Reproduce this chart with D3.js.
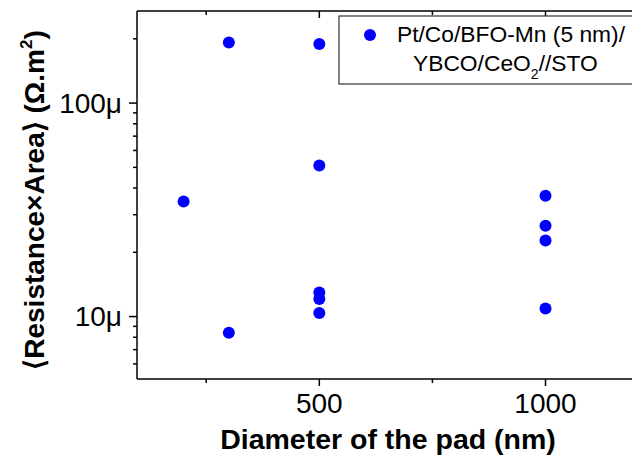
<!DOCTYPE html>
<html>
<head>
<meta charset="utf-8">
<script src="https://cdn.jsdelivr.net/npm/d3@7"></script>
<style>
  body { margin: 0; background: #fff; }
  text { font-family: Arial, "Liberation Sans", sans-serif; fill: #000; }
</style>
</head>
<body>
<div class="chart_Container"></div>
<script>
//pad diameters (nm) and the resistance x area values (ohm.m^2)
const diameters = [200, 300, 300, 500, 500, 500, 500, 500, 1000, 1000, 1000, 1000];
const raValues = [34.6e-6, 192e-6, 8.4e-6, 189e-6, 51e-6, 12.96e-6, 12.1e-6, 10.4e-6, 36.8e-6, 26.6e-6, 22.7e-6, 10.9e-6];

//tick values + labels
const xMajor = [500, 1000];
const xMajorLabels = ['500', '1000'];
const xMinor = [250, 750];
const yMajor = [1e-5, 1e-4];
const yMajorLabels = ['10\u03bc', '100\u03bc'];
const yMinor = [6e-6, 7e-6, 8e-6, 9e-6, 2e-5, 3e-5, 4e-5, 5e-5, 6e-5, 7e-5, 8e-5, 9e-5, 2e-4];

const seriesName1 = 'Pt/Co/BFO-Mn (5 nm)/';
const seriesName2 = ['YBCO/CeO', '2', '//STO'];

const W = 632, H = 456;
const margin = ({top: 11, bottom: 77, left: 137, right: -4});
const width = W - margin.left - margin.right;
const height = H - margin.top - margin.bottom;

const svg = d3.select('.chart_Container')
  .append('svg')
  .attr('width', W)
  .attr('height', H)
  .append('g')
  .attr('transform', `translate(${margin.left},${margin.top})`);

const x = d3.scaleLinear()
  .domain([97, 1200])
  .range([0, width]);

const y = d3.scaleLog()
  .domain([5.1e-6, 2.7e-4])
  .range([height, 0]);

const blue = '#0000ff';

//points
svg.selectAll('.dot')
  .data(diameters.map((d, i) => ({d: d, ra: raValues[i]})))
  .enter()
  .append('circle')
  .attr('class', 'dot')
  .attr('cx', d => x(d.d))
  .attr('cy', d => y(d.ra))
  .attr('r', 6)
  .attr('fill', blue);

//frame lines (right side is off the picture)
const frame = svg.append('g').attr('stroke', '#000').attr('stroke-width', 1.5).attr('fill', 'none');
frame.append('line').attr('x1', 0).attr('x2', width + 10).attr('y1', 0).attr('y2', 0);
frame.append('line').attr('x1', 0).attr('x2', width + 10).attr('y1', height).attr('y2', height);
frame.append('line').attr('x1', 0).attr('x2', 0).attr('y1', 0).attr('y2', height);

//bottom ticks point out, top ones point in
const tickG = svg.append('g').attr('stroke', '#000').attr('stroke-width', 1.5);
function xTicks(vals, len) {
  vals.forEach(v => {
    tickG.append('line').attr('x1', x(v)).attr('x2', x(v)).attr('y1', height).attr('y2', height + len);
    tickG.append('line').attr('x1', x(v)).attr('x2', x(v)).attr('y1', 0).attr('y2', len);
  });
}
xTicks(xMajor, 7);
xTicks(xMinor, 4);

yMajor.forEach(v => {
  tickG.append('line').attr('x1', -8).attr('x2', 0).attr('y1', y(v)).attr('y2', y(v));
});
yMinor.forEach(v => {
  tickG.append('line').attr('x1', -4).attr('x2', 0).attr('y1', y(v)).attr('y2', y(v));
});

//tick labels
svg.selectAll('.xlab')
  .data(xMajor)
  .enter()
  .append('text')
  .attr('class', 'xlab')
  .attr('x', d => x(d))
  .attr('y', height + 34)
  .attr('text-anchor', 'middle')
  .style('font-size', '28px')
  .text((d, i) => xMajorLabels[i]);

svg.selectAll('.ylab')
  .data(yMajor)
  .enter()
  .append('text')
  .attr('class', 'ylab')
  .attr('x', -15)
  .attr('y', d => y(d) + 9.5)
  .attr('text-anchor', 'end')
  .style('font-size', '28px')
  .text((d, i) => yMajorLabels[i]);

//axis titles
svg.append('text')
  .attr('x', 388 - margin.left)
  .attr('y', 449 - margin.top)
  .attr('text-anchor', 'middle')
  .style('font-size', '28.5px')
  .style('font-weight', 'bold')
  .text('Diameter of the pad (nm)');

const yt = svg.append('text')
  .attr('transform', `translate(${44 - margin.left},${200 - margin.top}) rotate(-90)`)
  .attr('text-anchor', 'middle')
  .style('font-size', '28px')
  .style('font-weight', 'bold');
yt.append('tspan').text('\u27e8Resistance\u00d7Area\u27e9 (\u03a9.m');
yt.append('tspan').attr('dy', -12).style('font-size', '17px').text('2');
yt.append('tspan').attr('dy', 12).text(')');

//legend box
const leg = svg.append('g').attr('transform', `translate(${339 - margin.left},${16 - margin.top})`);
leg.append('rect')
  .attr('x', 0).attr('y', 0)
  .attr('width', 320).attr('height', 68)
  .attr('fill', '#fff')
  .attr('stroke', '#333')
  .attr('stroke-width', 1.2);
leg.append('circle')
  .attr('cx', 31).attr('cy', 19)
  .attr('r', 6)
  .attr('fill', blue);
leg.append('text')
  .attr('x', 58).attr('y', 26)
  .style('font-size', '22.8px')
  .text(seriesName1);
const l2 = leg.append('text')
  .attr('x', 74).attr('y', 55)
  .style('font-size', '22.8px');
l2.append('tspan').text(seriesName2[0]);
l2.append('tspan').attr('dy', 8).style('font-size', '14px').text(seriesName2[1]);
l2.append('tspan').attr('dy', -8).text(seriesName2[2]);
</script>
</body>
</html>
